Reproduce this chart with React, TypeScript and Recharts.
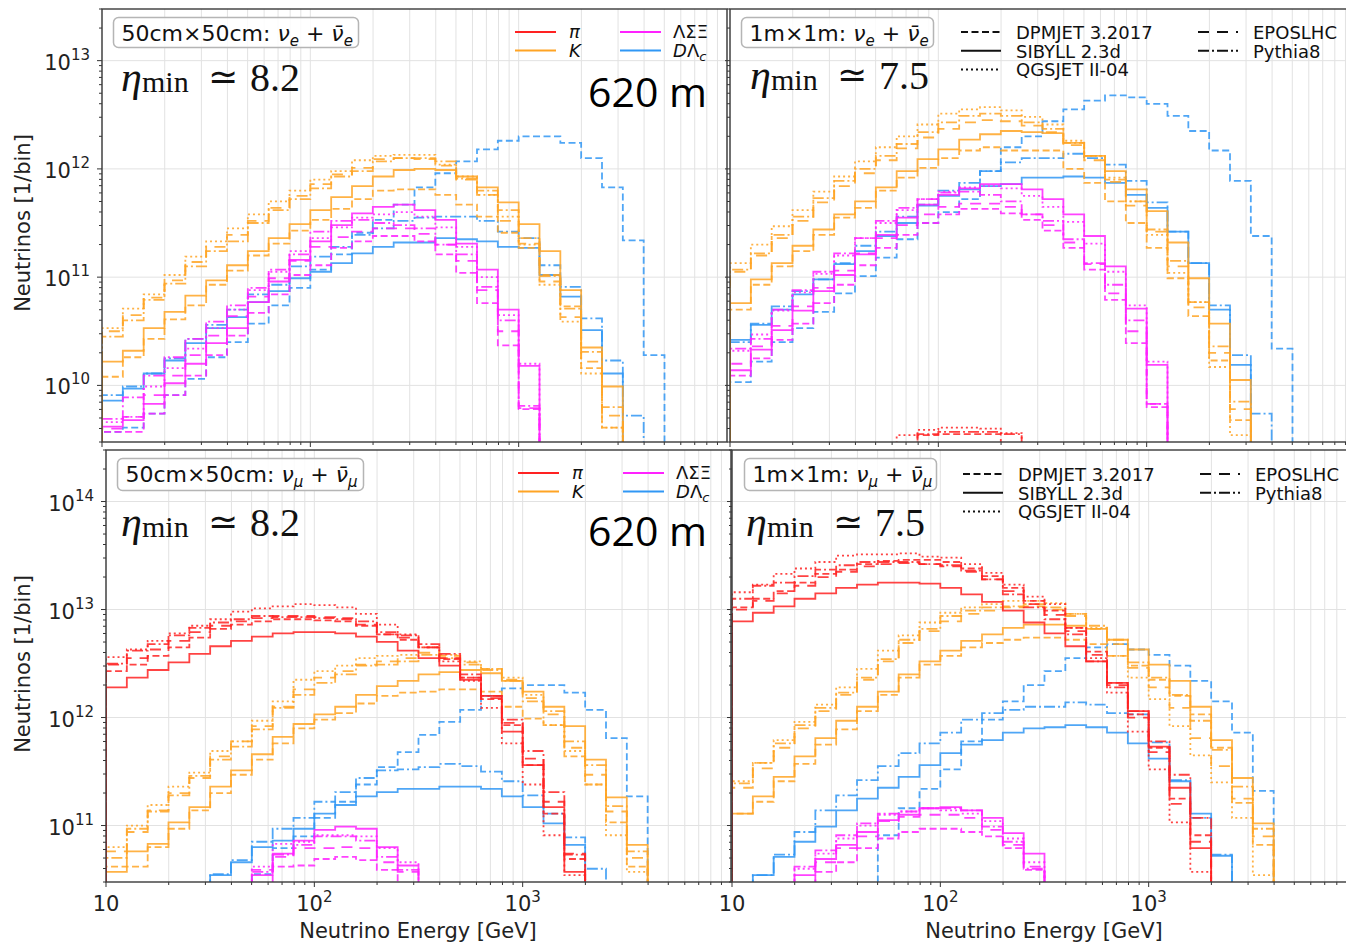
import React from 'react'
import { LineChart, Line, XAxis, YAxis, CartesianGrid, ReferenceLine } from 'recharts'

// histogram bin edges, 10 bins per decade [GeV]
const binEdges = [
  10, 12.59, 15.85, 19.95, 25.12, 31.62, 39.81, 50.12, 63.1, 79.43,
  100, 125.9, 158.5, 199.5, 251.2, 316.2, 398.1, 501.2, 631, 794.3,
  1000, 1259, 1585, 1995, 2512, 3162, 3981, 5012, 6310, 7943, 10000,
]

const xMajorTicks = [10, 100, 1000]
const xMinorTicks = [20, 30, 40, 50, 60, 70, 80, 90, 200, 300, 400, 500, 600, 700, 800, 900, 2000, 3000, 4000, 5000, 6000, 7000, 8000, 9000]
const topDecades = [1e10, 1e11, 1e12, 1e13]
const bottomDecades = [1e11, 1e12, 1e13, 1e14]
const minorSteps = [2, 3, 4, 5, 6, 7, 8, 9]

const _ = null

// all values below: log10(neutrinos per bin), one entry per bin (null = empty)

// 50cm x 50cm, nu_e
const tlKaonSibyll = [10.22, 10.32, 10.53, 10.68, 10.83, 10.97, 11.11, 11.24, 11.36, 11.49, 11.62, 11.74, 11.84, 11.93, 11.99, 12.0, 11.99, 11.93, 11.83, 11.69, 11.49, 11.24, 10.88, 10.35, 9.99]
const tlKaonDpmjet = [10.08, 10.26, 10.43, 10.61, 10.74, 10.93, 11.06, 11.2, 11.31, 11.43, 11.53, 11.63, 11.72, 11.8, 11.81, 11.81, 11.76, 11.67, 11.56, 11.41, 11.27, 11.02, 10.73, 10.16, 9.61]
const tlKaonQgsjet = [10.53, 10.71, 10.84, 11.02, 11.19, 11.33, 11.45, 11.58, 11.7, 11.8, 11.9, 11.98, 12.08, 12.12, 12.13, 12.13, 12.04, 11.93, 11.76, 11.56, 11.3, 10.93, 10.59, 10.11, 9.61]
const tlKaonEpos = [10.5, 10.65, 10.81, 10.97, 11.14, 11.28, 11.39, 11.52, 11.64, 11.75, 11.86, 11.95, 12.01, 12.09, 12.1, 12.09, 12.03, 11.9, 11.76, 11.52, 11.31, 10.96, 10.63, 10.22, 9.72]
const tlKaonPythia = [10.45, 10.6, 10.79, 10.94, 11.1, 11.24, 11.33, 11.5, 11.62, 11.72, 11.82, 11.93, 11.98, 12.07, 12.1, 12.1, 12.07, 11.91, 11.8, 11.62, 11.36, 11.01, 10.71, 10.31, 9.8]
const tlHypSibyll = [9.62, 9.68, 9.83, 10.02, 10.2, 10.39, 10.53, 10.77, 10.96, 11.16, 11.33, 11.48, 11.59, 11.65, 11.67, 11.62, 11.53, 11.31, 11.07, 10.7, 10.18]
const tlHypDpmjet = [9.57, 9.57, 9.74, 9.91, 10.09, 10.28, 10.46, 10.67, 10.84, 11.02, 11.11, 11.27, 11.33, 11.38, 11.38, 11.33, 11.21, 11.04, 10.76, 10.37, 9.78]
const tlHypQgsjet = [9.66, 9.71, 9.99, 10.16, 10.34, 10.53, 10.7, 10.88, 11.05, 11.24, 11.36, 11.46, 11.55, 11.58, 11.6, 11.56, 11.46, 11.28, 11.0, 10.65, 10.2]
const tlHypEpos = [9.6, 9.71, 9.91, 10.09, 10.28, 10.46, 10.64, 10.82, 10.99, 11.15, 11.28, 11.37, 11.42, 11.45, 11.45, 11.4, 11.3, 11.15, 10.88, 10.5, 9.79]
const tlHypPythia = [9.69, 9.89, 10.09, 10.26, 10.43, 10.59, 10.74, 10.9, 11.07, 11.21, 11.42, 11.52, 11.53, 11.5, 11.48, 11.45, 11.3, 11.21, 10.91, 10.6, 9.81]
const tlCharmSibyll = [9.86, 9.97, 10.11, 10.23, 10.39, 10.53, 10.63, 10.77, 10.87, 10.99, 11.05, 11.13, 11.22, 11.28, 11.32, 11.32, 11.36, 11.35, 11.33, 11.28, 11.27, 11.02, 10.82, 10.51, 10.11]
const tlCharmDpmjet = [9.57, 9.61, 9.74, 9.91, 10.06, 10.26, 10.4, 10.57, 10.74, 10.9, 11.07, 11.21, 11.41, 11.53, 11.67, 11.83, 11.96, 12.07, 12.18, 12.26, 12.3, 12.3, 12.24, 12.1, 11.83, 11.34, 10.28]
const tlCharmPythia = [9.91, 9.99, 10.11, 10.25, 10.43, 10.56, 10.7, 10.84, 10.93, 11.1, 11.19, 11.28, 11.39, 11.45, 11.52, 11.55, 11.56, 11.56, 11.52, 11.42, 11.36, 11.11, 10.91, 10.62, 10.23, 9.72]

// 1m x 1m, nu_e
const trKaonSibyll = [10.76, 10.98, 11.13, 11.29, 11.44, 11.58, 11.7, 11.83, 11.98, 12.09, 12.18, 12.27, 12.32, 12.35, 12.34, 12.33, 12.24, 12.12, 11.98, 11.81, 11.61, 11.32, 10.99, 10.57, 10.05]
const trKaonDpmjet = [10.7, 10.93, 11.1, 11.24, 11.39, 11.55, 11.64, 11.8, 11.92, 12.01, 12.1, 12.17, 12.2, 12.17, 12.17, 12.17, 12.0, 11.87, 11.7, 11.5, 11.27, 10.99, 10.64, 10.23, 9.68]
const trKaonQgsjet = [11.13, 11.3, 11.47, 11.62, 11.79, 11.93, 12.07, 12.2, 12.3, 12.41, 12.51, 12.55, 12.57, 12.54, 12.48, 12.41, 12.26, 12.12, 11.92, 11.7, 11.39, 11.04, 10.77, 10.17, 9.54]
const trKaonEpos = [11.05, 11.2, 11.36, 11.52, 11.69, 11.84, 11.96, 12.08, 12.19, 12.29, 12.37, 12.43, 12.45, 12.44, 12.4, 12.34, 12.22, 12.08, 11.88, 11.66, 11.42, 11.1, 10.72, 10.3, 9.78]
const trKaonPythia = [11.07, 11.22, 11.39, 11.56, 11.73, 11.89, 12.0, 12.12, 12.23, 12.34, 12.43, 12.49, 12.51, 12.49, 12.43, 12.37, 12.24, 12.12, 11.9, 11.7, 11.44, 11.15, 10.77, 10.36, 9.85]
const trHypSibyll = [10.14, 10.33, 10.51, 10.69, 10.87, 11.02, 11.21, 11.39, 11.55, 11.67, 11.76, 11.82, 11.86, 11.86, 11.81, 11.72, 11.58, 11.38, 11.1, 10.71, 10.19]
const trHypDpmjet = [10.09, 10.25, 10.42, 10.57, 10.76, 10.93, 11.11, 11.27, 11.39, 11.5, 11.58, 11.63, 11.63, 11.59, 11.53, 11.43, 11.27, 11.07, 10.79, 10.39, 9.8]
const trHypQgsjet = [10.32, 10.47, 10.69, 10.86, 11.03, 11.2, 11.36, 11.5, 11.62, 11.72, 11.79, 11.83, 11.84, 11.82, 11.75, 11.65, 11.51, 11.31, 11.05, 10.74, 10.22]
const trHypEpos = [10.2, 10.36, 10.55, 10.73, 10.9, 11.06, 11.22, 11.36, 11.48, 11.58, 11.65, 11.68, 11.68, 11.65, 11.58, 11.48, 11.32, 11.12, 10.85, 10.5, 9.83]
const trHypPythia = [10.34, 10.43, 10.7, 10.88, 11.05, 11.22, 11.36, 11.52, 11.64, 11.72, 11.78, 11.79, 11.76, 11.7, 11.58, 11.52, 11.35, 11.13, 10.93, 10.6, 9.83]
const trCharmSibyll = [10.42, 10.56, 10.7, 10.84, 10.98, 11.12, 11.24, 11.38, 11.5, 11.66, 11.75, 11.81, 11.84, 11.86, 11.92, 11.92, 11.93, 11.92, 11.87, 11.76, 11.64, 11.42, 11.13, 10.7, 10.19]
const trCharmDpmjet = [10.03, 10.22, 10.4, 10.53, 10.68, 10.85, 11.01, 11.18, 11.35, 11.5, 11.6, 11.72, 11.98, 12.2, 12.3, 12.44, 12.55, 12.63, 12.68, 12.66, 12.6, 12.49, 12.35, 12.17, 11.89, 11.38, 10.34]
const trCharmPythia = [10.4, 10.57, 10.73, 10.87, 10.98, 11.13, 11.29, 11.42, 11.56, 11.67, 11.8, 11.87, 11.98, 12.06, 12.1, 12.1, 12.14, 12.1, 12.04, 11.89, 11.69, 11.42, 11.13, 10.74, 10.28, 9.74]
const trPionDpmjet = [_, _, _, _, _, _, _, _, _, 9.54, 9.55, 9.55, 9.55]
const trPionQgsjet = [_, _, _, _, _, _, _, _, 9.54, 9.59, 9.61, 9.61, 9.6, 9.56]
const trPionPythia = [_, _, _, _, _, _, _, _, _, 9.55, 9.57, 9.57, 9.57, 9.55]

// 50cm x 50cm, nu_mu
const blPionSibyll = [12.28, 12.37, 12.44, 12.51, 12.59, 12.66, 12.71, 12.75, 12.78, 12.79, 12.79, 12.78, 12.75, 12.7, 12.62, 12.55, 12.48, 12.35, 12.2, 11.87, 11.56, 11.17, 10.57]
const blPionDpmjet = [12.43, 12.49, 12.57, 12.65, 12.74, 12.82, 12.86, 12.89, 12.91, 12.91, 12.9, 12.89, 12.85, 12.77, 12.72, 12.65, 12.54, 12.37, 12.17, 11.93, 11.56, 11.11, 10.69]
const blPionQgsjet = [12.56, 12.63, 12.71, 12.78, 12.85, 12.91, 12.98, 13.01, 13.03, 13.05, 13.04, 13.02, 12.96, 12.86, 12.77, 12.65, 12.52, 12.34, 12.09, 11.76, 11.38, 10.91, 10.54]
const blPionEpos = [12.49, 12.55, 12.63, 12.71, 12.79, 12.85, 12.89, 12.92, 12.94, 12.94, 12.93, 12.92, 12.86, 12.77, 12.74, 12.65, 12.55, 12.37, 12.18, 11.95, 11.62, 11.22, 10.74]
const blPionPythia = [12.5, 12.62, 12.68, 12.76, 12.83, 12.88, 12.91, 12.94, 12.93, 12.93, 12.92, 12.91, 12.89, 12.79, 12.76, 12.68, 12.59, 12.4, 12.2, 11.98, 11.69, 11.31, 10.73]
const blKaonSibyll = [10.57, 10.76, 10.83, 11.03, 11.17, 11.36, 11.51, 11.66, 11.82, 11.94, 12.03, 12.1, 12.21, 12.29, 12.34, 12.4, 12.42, 12.44, 12.41, 12.34, 12.24, 12.1, 11.92, 11.61, 11.26, 10.82]
const blKaonDpmjet = [10.62, 10.62, 10.8, 10.97, 11.14, 11.3, 11.47, 11.61, 11.76, 11.9, 11.98, 12.04, 12.13, 12.2, 12.23, 12.24, 12.26, 12.26, 12.24, 12.1, 11.99, 11.93, 11.64, 11.38, 11.03, 10.62]
const blKaonQgsjet = [10.8, 11.0, 11.19, 11.36, 11.49, 11.69, 11.78, 11.97, 12.15, 12.35, 12.43, 12.48, 12.55, 12.57, 12.58, 12.65, 12.58, 12.52, 12.45, 12.37, 12.21, 11.93, 11.69, 11.38, 10.91, 10.57]
const blKaonEpos = [10.76, 10.94, 11.14, 11.3, 11.44, 11.64, 11.78, 11.92, 12.1, 12.26, 12.37, 12.43, 12.49, 12.52, 12.55, 12.6, 12.57, 12.51, 12.45, 12.35, 12.18, 12.03, 11.72, 11.47, 11.13, 10.7]
const blKaonPythia = [10.7, 10.97, 11.13, 11.28, 11.46, 11.61, 11.73, 11.89, 12.09, 12.21, 12.32, 12.4, 12.48, 12.49, 12.52, 12.58, 12.55, 12.49, 12.44, 12.34, 12.15, 12.06, 11.78, 11.56, 11.18, 10.76]
const blHypSibyll = [_, _, _, _, _, _, _, 10.54, 10.74, 10.86, 10.96, 10.99, 10.97, 10.8, 10.63]
const blHypDpmjet = [_, _, _, _, _, _, _, _, 10.62, 10.63, 10.69, 10.71, 10.68, 10.59]
const blHypQgsjet = [_, _, _, _, _, _, _, 10.62, 10.83, 10.85, 10.91, 10.91, 10.9, 10.79, 10.66]
const blHypEpos = [_, _, _, _, _, _, _, 10.59, 10.71, 10.79, 10.79, 10.8, 10.79, 10.66, 10.57]
const blHypPythia = [_, _, _, _, _, _, _, 10.57, 10.73, 10.82, 10.9, 10.9, 10.86, 10.71, 10.59]
const blCharmSibyll = [_, _, _, _, _, 10.54, 10.66, 10.8, 10.86, 10.97, 11.11, 11.19, 11.27, 11.31, 11.34, 11.34, 11.36, 11.36, 11.34, 11.27, 11.17, 11.02, 10.82]
const blCharmDpmjet = [_, _, _, _, _, _, _, 10.55, 10.79, 10.9, 11.07, 11.22, 11.38, 11.54, 11.68, 11.84, 11.96, 12.07, 12.2, 12.27, 12.3, 12.3, 12.23, 12.07, 11.81, 11.27]
const blCharmPythia = [_, _, _, _, _, 10.55, 10.68, 10.85, 10.97, 11.07, 11.22, 11.31, 11.44, 11.51, 11.52, 11.54, 11.57, 11.55, 11.5, 11.41, 11.28, 11.11, 10.89, 10.6]

// 1m x 1m, nu_mu
const brPionSibyll = [12.89, 12.97, 13.03, 13.1, 13.15, 13.2, 13.23, 13.25, 13.25, 13.24, 13.2, 13.14, 13.07, 12.99, 12.88, 12.78, 12.66, 12.52, 12.32, 12.06, 11.73, 11.35, 10.79]
const brPionDpmjet = [13.02, 13.1, 13.17, 13.25, 13.33, 13.37, 13.42, 13.45, 13.46, 13.46, 13.44, 13.38, 13.31, 13.2, 13.08, 12.99, 12.83, 12.61, 12.32, 12.03, 11.72, 11.25, 10.91]
const brPionQgsjet = [13.16, 13.23, 13.33, 13.38, 13.44, 13.5, 13.51, 13.51, 13.52, 13.49, 13.48, 13.42, 13.34, 13.23, 13.12, 13.05, 12.83, 12.55, 12.23, 11.87, 11.52, 11.03, 10.57]
const brPionEpos = [13.0, 13.08, 13.15, 13.22, 13.3, 13.35, 13.4, 13.42, 13.43, 13.42, 13.4, 13.35, 13.28, 13.17, 13.05, 12.95, 12.8, 12.58, 12.3, 12.0, 11.68, 11.2, 10.85]
const brPionPythia = [13.1, 13.22, 13.25, 13.31, 13.37, 13.41, 13.44, 13.44, 13.44, 13.42, 13.41, 13.36, 13.28, 13.14, 13.02, 12.91, 12.77, 12.52, 12.28, 12.06, 11.78, 11.47, 11.07]
const brKaonSibyll = [11.11, 11.27, 11.45, 11.64, 11.81, 11.97, 12.1, 12.24, 12.4, 12.52, 12.62, 12.71, 12.77, 12.83, 12.86, 12.86, 12.85, 12.82, 12.72, 12.63, 12.49, 12.34, 12.1, 11.79, 11.44, 11.02]
const brKaonDpmjet = [11.11, 11.22, 11.41, 11.57, 11.75, 11.89, 12.06, 12.21, 12.37, 12.49, 12.57, 12.65, 12.69, 12.72, 12.74, 12.74, 12.72, 12.68, 12.57, 12.48, 12.35, 12.2, 12.03, 11.72, 11.21, 10.82]
const brKaonQgsjet = [11.41, 11.58, 11.79, 11.96, 12.12, 12.28, 12.45, 12.62, 12.76, 12.88, 12.97, 13.02, 13.05, 13.08, 13.08, 13.06, 12.96, 12.83, 12.57, 12.37, 12.17, 11.92, 11.65, 11.4, 11.07, 10.54]
const brKaonEpos = [11.35, 11.53, 11.72, 11.9, 12.06, 12.21, 12.35, 12.52, 12.69, 12.8, 12.89, 12.96, 12.99, 13.02, 13.03, 13.0, 12.94, 12.82, 12.68, 12.46, 12.28, 12.09, 11.81, 11.55, 11.25, 10.9]
const brKaonPythia = [11.39, 11.58, 11.76, 11.93, 12.09, 12.23, 12.37, 12.54, 12.72, 12.82, 12.94, 12.99, 13.02, 13.03, 13.05, 13.02, 12.96, 12.85, 12.72, 12.51, 12.37, 12.21, 11.97, 11.7, 11.36, 10.97]
const brHypSibyll = [_, _, _, 10.54, 10.69, 10.82, 10.94, 11.05, 11.1, 11.16, 11.17, 11.14, 11.07, 10.93, 10.74]
const brHypDpmjet = [_, _, _, _, 10.57, 10.66, 10.79, 10.88, 10.94, 10.97, 10.97, 10.94, 10.9, 10.79, 10.59]
const brHypQgsjet = [_, _, _, 10.6, 10.74, 10.88, 11.0, 11.1, 11.13, 11.16, 11.14, 11.11, 11.04, 10.88, 10.66]
const brHypEpos = [_, _, _, _, 10.66, 10.79, 10.9, 11.04, 11.08, 11.1, 11.1, 11.07, 10.96, 10.82, 10.62]
const brHypPythia = [_, _, _, 10.62, 10.77, 10.91, 11.02, 11.11, 11.13, 11.16, 11.16, 11.14, 10.99, 10.85, 10.6]
const brCharmSibyll = [_, 10.54, 10.71, 10.85, 10.99, 11.14, 11.25, 11.35, 11.45, 11.56, 11.67, 11.75, 11.79, 11.86, 11.9, 11.91, 11.93, 11.91, 11.86, 11.76, 11.62, 11.41, 11.11, 10.72]
const brCharmDpmjet = [_, _, _, _, _, _, _, 10.91, 11.16, 11.34, 11.52, 11.78, 11.98, 12.15, 12.3, 12.43, 12.55, 12.65, 12.68, 12.63, 12.58, 12.48, 12.34, 12.15, 11.86, 11.32]
const brCharmPythia = [_, 10.54, 10.73, 10.94, 11.14, 11.28, 11.42, 11.55, 11.67, 11.76, 11.86, 11.98, 12.04, 12.07, 12.1, 12.1, 12.14, 12.12, 12.04, 12.03, 11.77, 11.42, 11.07, 10.73]

type Species = 'pi' | 'K' | 'hyp' | 'charm'
type Gen = 'DPMJET' | 'SIBYLL' | 'QGSJET' | 'EPOSLHC' | 'Pythia8'

const colors: Record<Species, string> = {
  pi: '#ff2222',
  K: '#ffa424',
  hyp: '#ff22ff',
  charm: '#3097f5',
}

const dashes: Record<Gen, string | undefined> = {
  DPMJET: '7 3.5',
  SIBYLL: undefined,
  QGSJET: '2 3',
  EPOSLHC: '11 8',
  Pythia8: '11 3 2 3',
}

interface Series {
  sp: Species
  gen: Gen
  bins: (number | null)[]
}

const mk = (sp: Species, gen: Gen, bins: (number | null)[]): Series => ({ sp, gen, bins })

const tlSeries = [
  mk('charm', 'DPMJET', tlCharmDpmjet), mk('charm', 'SIBYLL', tlCharmSibyll), mk('charm', 'Pythia8', tlCharmPythia),
  mk('hyp', 'DPMJET', tlHypDpmjet), mk('hyp', 'SIBYLL', tlHypSibyll), mk('hyp', 'QGSJET', tlHypQgsjet), mk('hyp', 'EPOSLHC', tlHypEpos), mk('hyp', 'Pythia8', tlHypPythia),
  mk('K', 'DPMJET', tlKaonDpmjet), mk('K', 'SIBYLL', tlKaonSibyll), mk('K', 'QGSJET', tlKaonQgsjet), mk('K', 'EPOSLHC', tlKaonEpos), mk('K', 'Pythia8', tlKaonPythia),
]
const trSeries = [
  mk('charm', 'DPMJET', trCharmDpmjet), mk('charm', 'SIBYLL', trCharmSibyll), mk('charm', 'Pythia8', trCharmPythia),
  mk('hyp', 'DPMJET', trHypDpmjet), mk('hyp', 'SIBYLL', trHypSibyll), mk('hyp', 'QGSJET', trHypQgsjet), mk('hyp', 'EPOSLHC', trHypEpos), mk('hyp', 'Pythia8', trHypPythia),
  mk('K', 'DPMJET', trKaonDpmjet), mk('K', 'SIBYLL', trKaonSibyll), mk('K', 'QGSJET', trKaonQgsjet), mk('K', 'EPOSLHC', trKaonEpos), mk('K', 'Pythia8', trKaonPythia),
  mk('pi', 'DPMJET', trPionDpmjet), mk('pi', 'QGSJET', trPionQgsjet), mk('pi', 'Pythia8', trPionPythia),
]
const blSeries = [
  mk('charm', 'DPMJET', blCharmDpmjet), mk('charm', 'SIBYLL', blCharmSibyll), mk('charm', 'Pythia8', blCharmPythia),
  mk('hyp', 'DPMJET', blHypDpmjet), mk('hyp', 'SIBYLL', blHypSibyll), mk('hyp', 'QGSJET', blHypQgsjet), mk('hyp', 'EPOSLHC', blHypEpos), mk('hyp', 'Pythia8', blHypPythia),
  mk('K', 'DPMJET', blKaonDpmjet), mk('K', 'SIBYLL', blKaonSibyll), mk('K', 'QGSJET', blKaonQgsjet), mk('K', 'EPOSLHC', blKaonEpos), mk('K', 'Pythia8', blKaonPythia),
  mk('pi', 'DPMJET', blPionDpmjet), mk('pi', 'SIBYLL', blPionSibyll), mk('pi', 'QGSJET', blPionQgsjet), mk('pi', 'EPOSLHC', blPionEpos), mk('pi', 'Pythia8', blPionPythia),
]
const brSeries = [
  mk('charm', 'DPMJET', brCharmDpmjet), mk('charm', 'SIBYLL', brCharmSibyll), mk('charm', 'Pythia8', brCharmPythia),
  mk('hyp', 'DPMJET', brHypDpmjet), mk('hyp', 'SIBYLL', brHypSibyll), mk('hyp', 'QGSJET', brHypQgsjet), mk('hyp', 'EPOSLHC', brHypEpos), mk('hyp', 'Pythia8', brHypPythia),
  mk('K', 'DPMJET', brKaonDpmjet), mk('K', 'SIBYLL', brKaonSibyll), mk('K', 'QGSJET', brKaonQgsjet), mk('K', 'EPOSLHC', brKaonEpos), mk('K', 'Pythia8', brKaonPythia),
  mk('pi', 'DPMJET', brPionDpmjet), mk('pi', 'SIBYLL', brPionSibyll), mk('pi', 'QGSJET', brPionQgsjet), mk('pi', 'EPOSLHC', brPionEpos), mk('pi', 'Pythia8', brPionPythia),
]

// value used for the empty side of a histogram edge (far below the axis)
const FLOOR = 1e6

// step outline like matplotlib histtype='step'
function stepPoints(bins: (number | null)[]) {
  const pts: { x: number; y: number }[] = []
  let open = false
  bins.forEach((v, i) => {
    if (v == null) {
      if (open) {
        pts.push({ x: binEdges[i], y: FLOOR })
        open = false
      }
      return
    }
    const y = Math.pow(10, v)
    if (!open) {
      pts.push({ x: binEdges[i], y: FLOOR })
      open = true
    }
    pts.push({ x: binEdges[i], y }, { x: binEdges[i + 1], y })
  })
  if (open) pts.push({ x: binEdges[bins.length], y: FLOOR })
  return pts
}

const FONT = "'DejaVu Sans', sans-serif"
const TICK_COLOR = '#333'

const XTick = (props: any) => {
  const { x, y, payload, showLabel } = props
  const v = payload.value as number
  const major = xMajorTicks.includes(v)
  const exp = Math.round(Math.log10(v))
  return (
    <g>
      <line x1={x} x2={x} y1={y} y2={y + (major ? 5 : 3)} stroke={TICK_COLOR} strokeWidth={1} />
      {major && showLabel && (
        <text x={x} y={y + 29} textAnchor="middle" fontSize={21} fill="#222" fontFamily={FONT}>
          10
          {exp > 1 && (
            <tspan dy={-9} fontSize={15}>
              {exp}
            </tspan>
          )}
        </text>
      )}
    </g>
  )
}

const YTick = (props: any) => {
  const { x, y, payload, showLabel, majors } = props
  const v = payload.value as number
  const major = (majors as number[]).includes(v)
  const exp = Math.round(Math.log10(v))
  return (
    <g>
      <line x1={x} x2={x - (major ? 5 : 3)} y1={y} y2={y} stroke={TICK_COLOR} strokeWidth={1} />
      {major && showLabel && (
        <text x={x - 12} y={y + 9} textAnchor="end" fontSize={21} fill="#222" fontFamily={FONT}>
          10
          <tspan dy={-10} fontSize={15}>
            {exp}
          </tspan>
        </text>
      )}
    </g>
  )
}

interface PanelProps {
  left: number
  top: number
  width: number
  height: number
  yAxisWidth: number
  xAxisHeight: number
  marginTop: number
  yDomain: [number, number]
  decades: number[]
  series: Series[]
  xLabels: boolean
  yLabels: boolean
}

const Panel: React.FC<PanelProps> = ({ left, top, width, height, yAxisWidth, xAxisHeight, marginTop, yDomain, decades, series, xLabels, yLabels }) => {
  const yTicks: number[] = []
  decades.forEach((d) => {
    minorSteps.forEach((m) => {
      const below = (d / 10) * m
      if (below >= yDomain[0] && below <= yDomain[1]) yTicks.push(below)
    })
    yTicks.push(d)
  })
  minorSteps.forEach((m) => {
    const v = decades[decades.length - 1] * m
    if (v <= yDomain[1]) yTicks.push(v)
  })
  const xTicks = [...xMajorTicks, ...xMinorTicks].sort((a, b) => a - b)

  return (
    <div style={{ position: 'absolute', left, top }}>
      <LineChart width={width} height={height} margin={{ top: marginTop, right: 3, left: 0, bottom: 0 }}>
        <CartesianGrid horizontal={false} stroke="#e2e2e2" strokeWidth={1} />
        {decades.map((d) => (
          <ReferenceLine key={d} y={d} stroke="#e2e2e2" strokeWidth={1} />
        ))}
        <XAxis
          dataKey="x"
          type="number"
          scale="log"
          domain={[10, 10000]}
          allowDataOverflow
          ticks={xTicks}
          interval={0}
          height={xAxisHeight}
          tickSize={0}
          tickMargin={0}
          tickLine={false}
          axisLine={false}
          tick={(p: any) => <XTick {...p} showLabel={xLabels} />}
        />
        <YAxis
          type="number"
          scale="log"
          domain={yDomain}
          allowDataOverflow
          ticks={yTicks}
          interval={0}
          width={yAxisWidth}
          tickSize={0}
          tickMargin={0}
          tickLine={false}
          axisLine={false}
          tick={(p: any) => <YTick {...p} showLabel={yLabels} majors={decades} />}
        />
        {series.map((s, i) => (
          <Line
            key={i}
            data={stepPoints(s.bins)}
            dataKey="y"
            type="linear"
            stroke={colors[s.sp]}
            strokeOpacity={0.85}
            strokeWidth={1.8}
            strokeDasharray={dashes[s.gen]}
            dot={false}
            activeDot={false}
            isAnimationActive={false}
          />
        ))}
      </LineChart>
    </div>
  )
}

const Nu = ({ flavour, bar }: { flavour: string; bar?: boolean }) => (
  <>
    <tspan fontStyle="italic">{bar ? 'ν\u0304' : 'ν'}</tspan>
    <tspan fontStyle="italic" fontSize={15} dy={5}>
      {flavour}
    </tspan>
    <tspan dy={-5}> </tspan>
  </>
)

const DetectorBox = ({ x, y, w, h, size, flavour }: { x: number; y: number; w: number; h: number; size: string; flavour: string }) => (
  <g>
    <rect x={x} y={y} width={w} height={h} rx={5} fill="#fff" fillOpacity={0.85} stroke="#b5b5b5" strokeWidth={1.5} />
    <text x={x + 8} y={y + 23} fontSize={22} fill="#111" fontFamily={FONT}>
      {size}: <Nu flavour={flavour} />+ <Nu flavour={flavour} bar />
    </text>
  </g>
)

const EtaLabel = ({ x, y, value }: { x: number; y: number; value: string }) => (
  <g fontFamily="'Liberation Serif', 'DejaVu Serif', serif" fill="#111">
    <text x={x} y={y} fontSize={42} fontStyle="italic">
      η
    </text>
    <text x={x + 21} y={y + 1} fontSize={30}>
      min
    </text>
    <text x={x + 87} y={y - 2} fontSize={36} fontFamily={FONT}>
      ≃
    </text>
    <text x={x + 129} y={y} fontSize={40}>
      {value}
    </text>
  </g>
)

const SpeciesLegend = ({ x, y }: { x: number; y: number }) => (
  <g fontFamily={FONT} fill="#111" fontSize={18}>
    <line x1={x} x2={x + 41} y1={y} y2={y} stroke={colors.pi} strokeWidth={2} />
    <line x1={x} x2={x + 41} y1={y + 18.5} y2={y + 18.5} stroke={colors.K} strokeWidth={2} />
    <line x1={x + 105} x2={x + 146} y1={y} y2={y} stroke={colors.hyp} strokeWidth={2} />
    <line x1={x + 105} x2={x + 146} y1={y + 18.5} y2={y + 18.5} stroke={colors.charm} strokeWidth={2} />
    <text x={x + 54} y={y + 6} fontStyle="italic">
      π
    </text>
    <text x={x + 54} y={y + 24.5} fontStyle="italic">
      K
    </text>
    <text x={x + 158} y={y + 6}>ΛΣΞ</text>
    <text x={x + 158} y={y + 24.5}>
      <tspan fontStyle="italic">D</tspan>Λ
      <tspan fontStyle="italic" fontSize={13} dy={4}>
        c
      </tspan>
    </text>
  </g>
)

const genLegendCols: Gen[][] = [
  ['DPMJET', 'SIBYLL', 'QGSJET'],
  ['EPOSLHC', 'Pythia8'],
]
const genLabels: Record<Gen, string> = {
  DPMJET: 'DPMJET 3.2017',
  SIBYLL: 'SIBYLL 2.3d',
  QGSJET: 'QGSJET II-04',
  EPOSLHC: 'EPOSLHC',
  Pythia8: 'Pythia8',
}

const GeneratorLegend = ({ x, y }: { x: number; y: number }) => (
  <g fontFamily={FONT} fill="#111" fontSize={18}>
    {genLegendCols.map((col, ci) =>
      col.map((g, ri) => {
        const lx = x + ci * 237
        const ly = y + ri * 18.7
        return (
          <g key={g}>
            <line x1={lx} x2={lx + 40} y1={ly} y2={ly} stroke="#111" strokeWidth={2} strokeDasharray={dashes[g]} />
            <text x={lx + 55} y={ly + 7}>
              {genLabels[g]}
            </text>
          </g>
        )
      }),
    )}
  </g>
)

const frames = [
  { x: 102, y: 9, w: 625, h: 433 },
  { x: 730, y: 9, w: 625, h: 433 },
  { x: 106, y: 450, w: 625, h: 432 },
  { x: 732, y: 450, w: 625, h: 432 },
]

const Overlay = () => (
  <svg width={1346} height={944} style={{ position: 'absolute', left: 0, top: 0, pointerEvents: 'none' }}>
    {frames.map((f, i) => (
      <rect key={i} x={f.x} y={f.y} width={f.w} height={f.h} fill="none" stroke="#3a3a3a" strokeWidth={1.4} />
    ))}

    <DetectorBox x={113.5} y={17.5} w={245} h={30} size="50cm×50cm" flavour="e" />
    <DetectorBox x={741.5} y={17.5} w={192} h={30} size="1m×1m" flavour="e" />
    <DetectorBox x={117.5} y={458.5} w={246} h={32} size="50cm×50cm" flavour="μ" />
    <DetectorBox x={744.5} y={458.5} w={192} h={32} size="1m×1m" flavour="μ" />

    <EtaLabel x={121} y={91} value="8.2" />
    <EtaLabel x={750} y={89} value="7.5" />
    <EtaLabel x={121} y={536} value="8.2" />
    <EtaLabel x={746} y={536} value="7.5" />

    <text x={707} y={107} textAnchor="end" fontSize={41} fontFamily="'Open Sans', sans-serif" fill="#000">
      620 m
    </text>
    <text x={707} y={546} textAnchor="end" fontSize={41} fontFamily="'Open Sans', sans-serif" fill="#000">
      620 m
    </text>

    <SpeciesLegend x={515} y={32} />
    <SpeciesLegend x={518} y={473} />
    <GeneratorLegend x={961} y={32} />
    <GeneratorLegend x={963} y={474} />

    <text transform="rotate(-90 30 223)" x={30} y={223} textAnchor="middle" fontSize={21} fontFamily={FONT} fill="#222">
      Neutrinos [1/bin]
    </text>
    <text transform="rotate(-90 30 664)" x={30} y={664} textAnchor="middle" fontSize={21} fontFamily={FONT} fill="#222">
      Neutrinos [1/bin]
    </text>
    <text x={418} y={938} textAnchor="middle" fontSize={21} fontFamily={FONT} fill="#222">
      Neutrino Energy [GeV]
    </text>
    <text x={1044} y={938} textAnchor="middle" fontSize={21} fontFamily={FONT} fill="#222">
      Neutrino Energy [GeV]
    </text>
  </svg>
)

export default function App() {
  return (
    <div style={{ position: 'fixed', left: 0, top: 0, width: 1346, height: 944, overflow: 'hidden', background: '#fff', fontFamily: FONT }}>
      <Panel left={0} top={0} width={730} height={450} yAxisWidth={102} xAxisHeight={8} marginTop={9} yDomain={[3e9, 3e13]} decades={topDecades} series={tlSeries} xLabels={false} yLabels />
      <Panel left={700} top={0} width={658} height={450} yAxisWidth={30} xAxisHeight={8} marginTop={9} yDomain={[3e9, 3e13]} decades={topDecades} series={trSeries} xLabels={false} yLabels={false} />
      <Panel left={0} top={442} width={734} height={502} yAxisWidth={106} xAxisHeight={62} marginTop={8} yDomain={[3e10, 3e14]} decades={bottomDecades} series={blSeries} xLabels yLabels />
      <Panel left={700} top={442} width={660} height={502} yAxisWidth={32} xAxisHeight={62} marginTop={8} yDomain={[3e10, 3e14]} decades={bottomDecades} series={brSeries} xLabels yLabels={false} />
      <Overlay />
    </div>
  )
}
